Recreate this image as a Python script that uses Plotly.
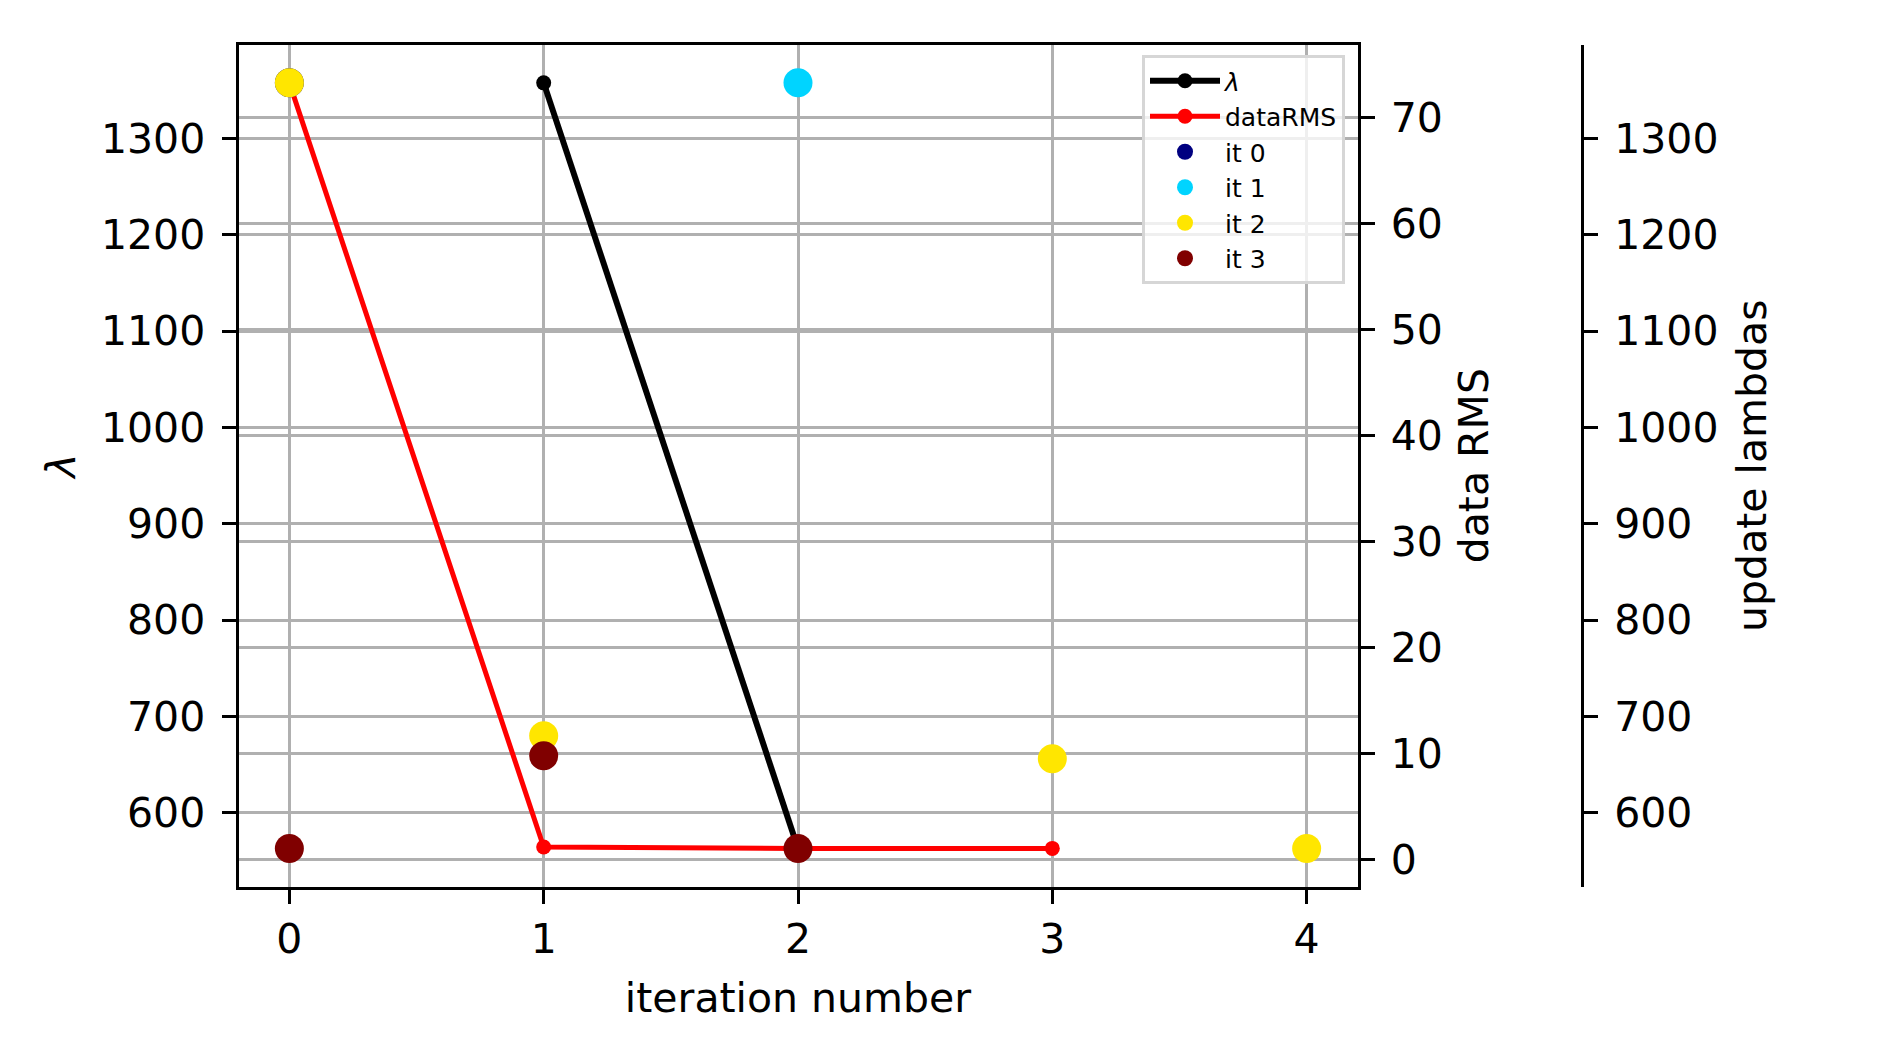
import plotly.graph_objects as go

# ---- data ----
iterations = [0, 1, 2, 3, 4]
lambda_x = [1, 2]
lambda_vals = [1357.6, 562.9]
rms_x = [0, 1, 2, 3]
rms_vals = [73.3, 1.15, 1.02, 1.02]

update_names = ["it 0", "it 1", "it 2", "it 3"]
update_colors = ["#000080", "#00d4ff", "#ffe600", "#800000"]
update_x = [[0], [2], [0, 1, 3, 4], [0, 1, 2]]
update_vals = [[1357.6], [1357.6], [1357.6, 680, 656, 562.9], [562.9, 659, 562.9]]

W, H = 1889, 1062
FONT = "DejaVu Sans"
TICKF = 41
GRID = "#b0b0b0"

fig = go.Figure()

fig.add_trace(go.Scatter(
    x=lambda_x, y=lambda_vals, name="<i>λ</i>", mode="lines+markers",
    line=dict(color="black", width=6), marker=dict(color="black", size=15),
    xaxis="x", yaxis="y"))

fig.add_trace(go.Scatter(
    x=rms_x, y=rms_vals, name="dataRMS", mode="lines+markers",
    line=dict(color="red", width=5), marker=dict(color="red", size=15),
    xaxis="x", yaxis="y2"))

for name, col, xs, ys in zip(update_names, update_colors, update_x, update_vals):
    fig.add_trace(go.Scatter(
        x=xs, y=ys, name=name, mode="markers",
        marker=dict(color=col, size=29, line=dict(width=0)),
        xaxis="x", yaxis="y3"))

x0, x1 = 238.5 / W, 1357.5 / W
y0, y1 = 1 - 886.7 / H, 1 - 44.6 / H

axis_common = dict(
    showline=True, linecolor="black", linewidth=3,
    ticks="outside", ticklen=14, tickwidth=3, tickcolor="black",
    tickfont=dict(family=FONT, size=TICKF, color="black"),
    zeroline=False,
)

fig.update_layout(
    width=W, height=H, autosize=False,
    margin=dict(l=0, r=0, t=0, b=0),
    paper_bgcolor="white", plot_bgcolor="white",
    font=dict(family=FONT, color="black"),
    showlegend=True,
    legend=dict(
        x=1142 / W, y=1 - 55 / H, xanchor="left", yanchor="top",
        bgcolor="rgba(255,255,255,0.8)", bordercolor="#d6d6d6", borderwidth=3,
        font=dict(family=FONT, size=25, color="black"),
        itemsizing="trace", itemwidth=70,
    ),
    xaxis=dict(
        domain=[x0, x1], range=[-0.2, 4.2], tickvals=iterations,
        showgrid=True, gridcolor=GRID, gridwidth=3, mirror=True,
        ticklabelstandoff=0,
        title=dict(text="iteration number", font=dict(family=FONT, size=TICKF), standoff=22),
        **axis_common),
    yaxis=dict(
        domain=[y0, y1], range=[523.2, 1397.3], dtick=100, tick0=0,
        showgrid=True, gridcolor=GRID, gridwidth=3, ticklabelstandoff=8,
        title=dict(text="<i>λ</i>", font=dict(family=FONT, size=TICKF), standoff=13),
        **axis_common),
    yaxis2=dict(
        overlaying="y", side="right", anchor="x",
        range=[-2.594, 76.914], dtick=10, tick0=0,
        showgrid=True, gridcolor=GRID, gridwidth=3, ticklabelstandoff=8,
        title=dict(text="data RMS", font=dict(family=FONT, size=TICKF), standoff=18),
        **axis_common),
    yaxis3=dict(
        overlaying="y", side="right", anchor="free", position=1582 / W,
        range=[523.2, 1397.3], dtick=100, tick0=0,
        showgrid=False, ticklabelstandoff=8,
        title=dict(text="update lambdas", font=dict(family=FONT, size=TICKF), standoff=19),
        **axis_common),
)

fig.write_html("out.html")
